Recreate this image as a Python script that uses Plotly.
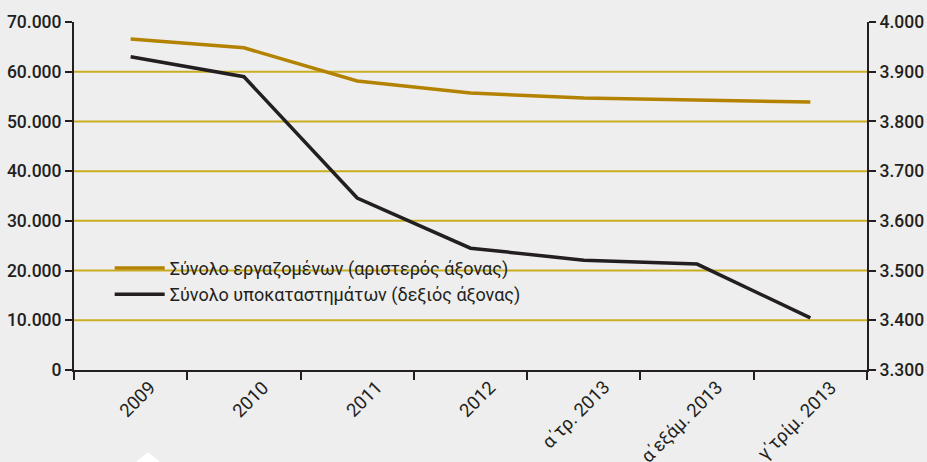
import plotly.graph_objects as go

categories = ["2009", "2010", "2011", "2012", "α΄τρ. 2013", "α΄εξάμ. 2013", "γ΄τρίμ. 2013"]
employees = [66600, 64800, 58150, 55700, 54700, 54300, 53900]
branches = [3930, 3890, 3646, 3545, 3521, 3513, 3405]
left_ticks = [0, 10000, 20000, 30000, 40000, 50000, 60000, 70000]
right_ticks = [3300, 3400, 3500, 3600, 3700, 3800, 3900, 4000]
grid_vals = [10000, 20000, 30000, 40000, 50000, 60000]

name1 = "Σύνολο εργαζομένων (αριστερός άξονας)"
name2 = "Σύνολο υποκαταστημάτων (δεξιός άξονας)"

BG = "#EEEEEE"
GOLD = "#B38200"
DARK = "#231F20"
GRID = "#C9AE22"
FONT = "Roboto"

fig = go.Figure()
fig.add_trace(go.Scatter(x=categories, y=employees, name=name1, mode="lines",
                         line=dict(color=GOLD, width=3.5), yaxis="y"))
fig.add_trace(go.Scatter(x=categories, y=branches, name=name2, mode="lines",
                         line=dict(color=DARK, width=3.5), yaxis="y2"))

for v in grid_vals:
    fig.add_shape(type="line", xref="paper", x0=0, x1=1, yref="y", y0=v, y1=v,
                  line=dict(color=GRID, width=2), layer="below")

# category labels, rotated, placed to the right of the category centre
for i, c in enumerate(categories):
    fig.add_annotation(x=i, xref="x", y=0, yref="paper", text=c, showarrow=False,
                       textangle=-45, xanchor="right", yanchor="top",
                       xshift=33, yshift=-4,
                       font=dict(size=18.5, family=FONT, color=DARK))

# small decorative white notch at the bottom edge
fig.add_shape(type="path", xref="paper", yref="paper",
              path="M 0.078 -0.2644 L 0.0933 -0.236 L 0.1086 -0.2644 Z",
              fillcolor="#FFFFFF", line=dict(width=0), layer="above")

tickfont = dict(size=17.5, family=FONT, color=DARK, weight=500)

fig.update_layout(
    width=927, height=462,
    margin=dict(l=74, r=60, t=22, b=92),
    paper_bgcolor=BG, plot_bgcolor=BG,
    separators=",.",
    font=dict(family=FONT, color=DARK, size=16),
    showlegend=True,
    legend=dict(x=0.045, y=0.255, xanchor="left", yanchor="middle",
                bgcolor="rgba(0,0,0,0)", font=dict(size=18, family=FONT, color=DARK),
                itemwidth=50, tracegroupgap=0),
    xaxis=dict(type="category", tickson="boundaries", ticks="outside", ticklen=8,
               tickwidth=2, tickcolor=DARK, showline=True, linecolor=DARK, linewidth=2,
               showgrid=False, showticklabels=False, automargin=False,
               range=[-0.5, 6.5]),
    yaxis=dict(range=[0, 70000], tickvals=left_ticks, tickformat=",d", automargin=False,
               showgrid=False, zeroline=False, showline=True, linecolor=DARK, linewidth=2,
               ticks="outside", ticklen=7, tickwidth=2, tickcolor=DARK,
               tickfont=tickfont),
    yaxis2=dict(range=[3300, 4000], tickvals=right_ticks, tickformat=",d", automargin=False,
                overlaying="y", side="right", showgrid=False, zeroline=False,
                showline=True, linecolor=DARK, linewidth=2,
                ticks="outside", ticklen=7, tickwidth=2, tickcolor=DARK,
                tickfont=tickfont),
)

fig.write_html("out.html")
